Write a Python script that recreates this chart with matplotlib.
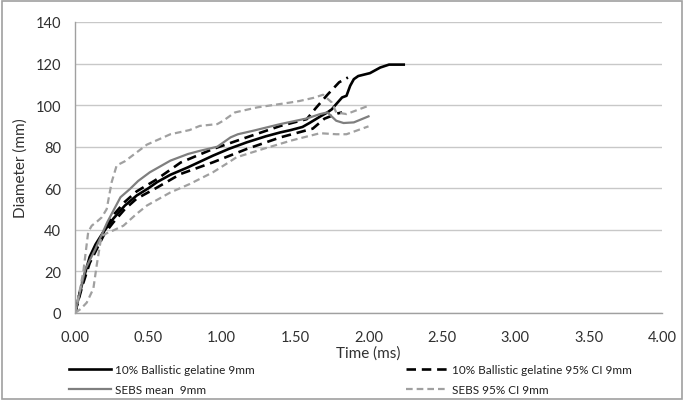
#!/usr/bin/env python3

from __future__ import annotations

from pathlib import Path

import matplotlib

matplotlib.use("Agg")
import matplotlib.pyplot as plt
from matplotlib.patches import Rectangle

# 10% ballistic gelatine, mean
gel_t = [0, 0.03, 0.06, 0.10, 0.14, 0.18, 0.22, 0.26, 0.30, 0.34, 0.42, 0.50, 0.56, 0.65, 0.77,
         0.94, 1.05, 1.17, 1.30, 1.40, 1.47, 1.55, 1.60, 1.67, 1.72, 1.75, 1.78, 1.82, 1.85,
         1.875, 1.90, 1.93, 2.01, 2.08, 2.14, 2.24]
gel_d = [0, 9, 17, 27, 33, 37.5, 41.5, 45.3, 48.5, 51.7, 56.5, 60, 63, 66.5, 70.1,
         75.7, 79, 82.1, 85, 86.9, 88, 89.5, 91.5, 94.5, 96.5, 98, 100.5, 103.7, 104.5,
         109.3, 112.5, 114, 115.4, 118.1, 119.5, 119.5]

# 10% ballistic gelatine, 95% CI (upper / lower)
gel_hi_t = [0, 0.05, 0.10, 0.15, 0.20, 0.26, 0.34, 0.42, 0.55, 0.72, 0.94, 1.17, 1.40, 1.58,
            1.64, 1.72, 1.76, 1.80, 1.86]
gel_hi_d = [0, 15, 25, 32, 40, 47, 53.5, 58.5, 64, 72.4, 78.9, 84.5, 90, 93.3,
            98.5, 105, 108, 111, 113.3]
gel_lo_t = [0, 0.05, 0.10, 0.15, 0.20, 0.26, 0.34, 0.42, 0.55, 0.72, 0.94, 1.17, 1.40, 1.62,
            1.70, 1.79, 1.82]
gel_lo_d = [0, 13, 24, 31, 38, 43.5, 50, 55, 60, 66.9, 72.5, 78.9, 84.5, 88.7,
            93.5, 96, 96.5]

# SEBS, mean
sebs_t = [0, 0.07, 0.14, 0.22, 0.31, 0.375, 0.43, 0.51, 0.65, 0.77, 0.85, 0.97, 1.01, 1.06,
          1.11, 1.215, 1.40, 1.58, 1.67, 1.72, 1.78, 1.83, 1.90, 2.00]
sebs_d = [0, 21, 31, 43.7, 55.7, 59.7, 63.5, 67.7, 73.3, 76.5, 78, 80, 82, 84.5,
          86, 87.7, 90.9, 93.6, 95.7, 96.5, 92.5, 91.4, 91.7, 94.6]

# SEBS, 95% CI (upper / lower)
sebs_hi_t = [0, 0.03, 0.057, 0.09, 0.114, 0.15, 0.182, 0.216, 0.25, 0.284, 0.34, 0.49, 0.65,
             0.78, 0.85, 0.97, 1.01, 1.09, 1.24, 1.47, 1.53, 1.625, 1.69, 1.75, 1.78, 1.85, 2.00]
sebs_hi_d = [0, 10, 20, 39, 42, 44, 46, 50, 63, 71, 73, 81, 86,
             88, 90, 90.9, 92.5, 96.5, 98.9, 101.3, 102, 103.5, 105, 101.3, 96.5, 95.7, 99.7]
sebs_lo_t = [0, 0.04, 0.08, 0.125, 0.148, 0.18, 0.22, 0.26, 0.33, 0.42, 0.49, 0.65, 0.78,
             0.94, 1.03, 1.10, 1.28, 1.47, 1.53, 1.67, 1.78, 1.85, 2.00]
sebs_lo_d = [0, 2, 5, 11.7, 23, 37, 38.5, 39.7, 42, 47.7, 51.7, 58, 62,
             67.7, 71.7, 74.9, 78.9, 82.9, 84, 86.5, 86, 86, 89.8]

x_ticks = [0, 0.5, 1.0, 1.5, 2.0, 2.5, 3.0, 3.5, 4.0]
y_ticks = [0, 20, 40, 60, 80, 100, 120, 140]

labels = [
    "10% Ballistic gelatine 9mm",
    "SEBS mean  9mm",
    "10% Ballistic gelatine 95% CI 9mm",
    "SEBS 95% CI 9mm",
]


def make_plot(out_png: Path) -> None:
    plt.rcParams["font.family"] = ["Lato", "DejaVu Sans"]
    fig = plt.figure(figsize=(6.85, 4.02), dpi=100)
    ax = fig.add_axes([75 / 685, 88 / 402, 587 / 685, 291 / 402])

    black = "#000000"
    grey = "#7f7f7f"
    light = "#a0a0a0"

    h_gel, = ax.plot(gel_t, gel_d, color=black, lw=1.9, solid_joinstyle="round")
    h_ci, = ax.plot(gel_hi_t, gel_hi_d, color=black, lw=1.9, dashes=(3.6, 2.2))
    ax.plot(gel_lo_t, gel_lo_d, color=black, lw=1.9, dashes=(3.6, 2.2))
    h_sebs, = ax.plot(sebs_t, sebs_d, color=grey, lw=1.6, solid_joinstyle="round")
    h_sci, = ax.plot(sebs_hi_t, sebs_hi_d, color=light, lw=1.6, dashes=(3.0, 1.8))
    ax.plot(sebs_lo_t, sebs_lo_d, color=light, lw=1.6, dashes=(3.0, 1.8))

    ax.set_xlim(0, 4)
    ax.set_ylim(0, 140)
    ax.set_xticks(x_ticks)
    ax.set_xticklabels([f"{v:.2f}" for v in x_ticks])
    ax.set_yticks(y_ticks)
    ax.tick_params(length=0, labelsize=10.5, colors="#303030")
    ax.tick_params(axis="x", pad=12)
    ax.tick_params(axis="y", pad=10)
    ax.grid(axis="y", color="#c8c8c8", lw=1.0)
    ax.set_axisbelow(True)
    for s in ("top", "right"):
        ax.spines[s].set_visible(False)
    for s in ("left", "bottom"):
        ax.spines[s].set_color("#a0a0a0")
        ax.spines[s].set_linewidth(1.0)

    ax.set_xlabel("Time (ms)", fontsize=11, color="#303030", labelpad=1)
    ax.set_ylabel("Diameter (mm)", fontsize=11, color="#303030", labelpad=6)

    fig.legend(
        [h_gel, h_sebs, h_ci, h_sci],
        labels,
        ncol=2,
        loc="upper left",
        bbox_to_anchor=(63 / 685, 1 - 359 / 402),
        frameon=False,
        fontsize=8.5,
        handlelength=3.6,
        handletextpad=0.3,
        columnspacing=12.8,
        labelspacing=0.75,
        borderpad=0,
        labelcolor="#202020",
    )

    fig.patches.append(Rectangle((0.003, 0.004), 0.992, 0.992, transform=fig.transFigure,
                                 fill=False, edgecolor="#a0a0a0", lw=1.2))

    out_png.parent.mkdir(parents=True, exist_ok=True)
    fig.savefig(out_png, dpi=100)
    plt.close(fig)


def main() -> None:
    make_plot(Path("out.png"))


if __name__ == "__main__":
    main()
